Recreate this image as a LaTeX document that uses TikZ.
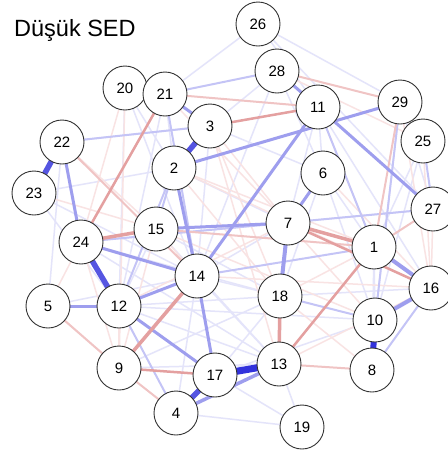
\documentclass[tikz,border=0pt]{standalone}
\usepackage{fontspec}
\setmainfont{Liberation Sans}
\begin{document}
\begin{tikzpicture}[x=1pt,y=-1pt,
  nd/.style={circle,draw=black!80,line width=0.9pt,fill=white,minimum size=44pt,inner sep=0pt,font=\fontsize{15}{15}\selectfont},
  bthick/.style={draw={rgb,255:red,85;green,85;blue,225},line width=5.5pt},
  bdark/.style={draw={rgb,255:red,50;green,50;blue,220},line width=6pt},
  bmed/.style={draw={rgb,255:red,158;green,158;blue,238},line width=3pt},
  blight/.style={draw={rgb,255:red,196;green,196;blue,246},line width=2pt},
  bfaint/.style={draw={rgb,255:red,228;green,228;blue,250},line width=1.5pt},
  rmed/.style={draw={rgb,255:red,228;green,160;blue,160},line width=3.5pt},
  rlight/.style={draw={rgb,255:red,240;green,196;blue,196},line width=2pt},
  rfaint/.style={draw={rgb,255:red,249;green,227;blue,227},line width=1.5pt}]
\useasboundingbox (0,0) rectangle (448,451);
\fill[white] (0,0) rectangle (448,451);
\node[anchor=base west,font=\fontsize{23.5}{24}\selectfont,inner sep=0pt] (title) at (14,36) {Düşük SED};
% node coordinates
\coordinate (c1) at (374,247);
\coordinate (c2) at (174,168);
\coordinate (c3) at (210,126);
\coordinate (c4) at (176,413);
\coordinate (c5) at (48,306);
\coordinate (c6) at (323,173);
\coordinate (c7) at (288,223);
\coordinate (c8) at (372,370);
\coordinate (c9) at (119,368);
\coordinate (c10) at (375,320);
\coordinate (c11) at (318,107);
\coordinate (c12) at (119,306);
\coordinate (c13) at (279,364);
\coordinate (c14) at (197,276);
\coordinate (c15) at (156,229);
\coordinate (c16) at (431,288);
\coordinate (c17) at (215,375);
\coordinate (c18) at (280,296);
\coordinate (c19) at (302,427);
\coordinate (c20) at (125,88);
\coordinate (c21) at (165,94);
\coordinate (c22) at (62,142);
\coordinate (c23) at (34,193);
\coordinate (c24) at (81,242);
\coordinate (c25) at (423,141);
\coordinate (c26) at (258,24);
\coordinate (c27) at (433,209);
\coordinate (c28) at (277,71);
\coordinate (c29) at (400,102);
% faint edges
\foreach \a/\b in {20/12,20/14,21/12,26/11,26/29,26/27,28/6,11/6,11/16,6/1,29/10,25/10,27/24,23/14,23/12,5/22,12/13,12/18,9/13,4/14,4/19,17/19,13/19,18/16,14/18,14/13,15/12,3/14,6/18,6/10,7/14,1/10,8/1,20/2,21/2,22/3,23/2,24/18,5/14,15/18,2/7,3/6,28/14,26/21,28/3,11/7,29/27,25/1,12/10,9/18,24/13,15/13,17/18,17/10}
  \draw[bfaint] (c\a) -- (c\b);
\foreach \a/\b in {20/9,23/15,5/24,15/9,15/14,2/1,2/18,3/13,3/18,7/10,16/13,18/1,18/8,25/16,27/16,20/24,22/15,12/9,3/7,6/16,21/7,11/1,14/16,28/25,2/16,24/9,5/9,29/16,7/12,15/10}
  \draw[rfaint] (c\a) -- (c\b);
% light edges
\foreach \a/\b in {21/28,22/3,18/10,4/12,11/1,14/1,2/12,2/15,21/14,29/10,8/16,27/24,25/27}
  \draw[blight] (c\a) -- (c\b);
\foreach \a/\b in {13/8,29/1,27/1,21/11,28/29,22/14,9/4,5/9,15/1}
  \draw[rlight] (c\a) -- (c\b);
% medium edges
\foreach \a/\b in {21/3,12/17,14/17,14/12,11/27,2/29,11/14,15/7,2/14,22/24,28/11,5/12,24/14,7/6}
  \draw[bmed] (c\a) -- (c\b);
\draw[bmed,line width=4pt] (c7) -- (c18);
\draw[bmed,line width=4pt] (c1) -- (c16);
\draw[bmed,line width=4pt] (c10) -- (c16);
\draw[bmed,line width=3.5pt] (c4) -- (c13);
\foreach \a/\b in {7/1,18/13,14/9,24/15}
  \draw[rmed] (c\a) -- (c\b);
\foreach \a/\b in {7/16,3/11,9/17,13/1,21/24}
  \draw[rmed,line width=2.5pt] (c\a) -- (c\b);
% thick edges
\draw[bthick] (c22) -- (c23);
\draw[bthick] (c2) -- (c3);
\draw[bthick] (c24) -- (c12);
\draw[bthick] (c4) -- (c17);
\draw[bdark,line width=7pt] (c17) -- (c13);
\draw[bdark] (c10) -- (c8);
% nodes
\foreach \i in {1,...,28} {
  \ifnum\i=25\else
  \node[nd] (n\i) at (c\i) {\i};
  \fi
}
\node[nd] (n29) at (c29) {29};
\node[nd] (n25) at (c25) {25};
\end{tikzpicture}
\end{document}
